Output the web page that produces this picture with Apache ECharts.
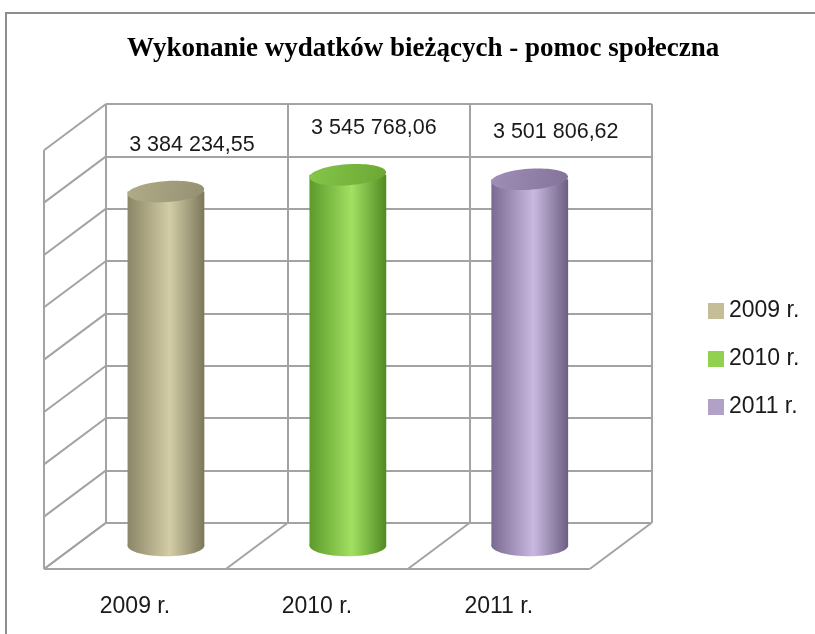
<!DOCTYPE html>
<html><head><meta charset="utf-8">
<script src="https://cdn.jsdelivr.net/npm/echarts@6/dist/echarts.min.js"></script>
<style>
html,body{margin:0;padding:0;background:#fff;width:815px;height:634px;overflow:hidden;}
#frame{position:absolute;left:5px;top:12px;width:900px;height:700px;border:2px solid #8e8e8e;box-sizing:border-box;}
#chart{position:absolute;left:0;top:0;width:815px;height:634px;}
</style></head><body>
<div id="frame"></div><div id="chart"></div>
<script>
// ---- data ----
const categories = ['2009 r.', '2010 r.', '2011 r.'];
const seriesNames = ['2009 r.', '2010 r.', '2011 r.'];
const values = [3384234.55, 3545768.06, 3501806.62];
const yMin = 0, yMax = 4000000, yStep = 500000;
const titleText = 'Wykonanie wydatków bieżących - pomoc społeczna';

// ---- styles ----
const legendColors = ['#C4BD97', '#92D050', '#B2A1C7'];
const bodyDark  = ['#8a8566', '#5b9a29', '#7a6a92'];
const bodyLight = ['#d3cda6', '#a2e063', '#c9b9e0'];
const bodyDark2 = ['#7b775b', '#508a22', '#6d5e84'];
const topA = ['#b0ab88', '#86c64a', '#9f8fb8'];
const topB = ['#959071', '#6aa733', '#837399'];
const DX = -62, DY = 46.3;           // depth offset of the 3D box
const WALL = {stroke: '#a3a3a3', lineWidth: 2};

function fmtPL(v) {
  const parts = v.toFixed(2).split('.');
  return parts[0].replace(/\B(?=(\d{3})+(?!\d))/g, ' ') + ',' + parts[1];
}

function wallsRenderer(params, api) {
  const children = [];
  const band = api.size([1, 0])[0];
  const n = categories.length;
  const x0 = api.coord([0, 0])[0] - band / 2;
  const yb = api.coord([0, yMin])[1];
  const yt = api.coord([0, yMax])[1];
  for (let t = yMin; t <= yMax; t += yStep) {
    const y = api.coord([0, t])[1];
    children.push({type: 'line', shape: {x1: x0, y1: y, x2: x0 + DX, y2: y + DY}, style: WALL});
  }
  children.push({type: 'line', shape: {x1: x0 + DX, y1: yt + DY, x2: x0 + DX, y2: yb + DY}, style: WALL});
  for (let b = 0; b <= n; b++) {
    const x = x0 + b * band;
    children.push({type: 'line', shape: {x1: x, y1: yb, x2: x + DX, y2: yb + DY}, style: WALL});
  }
  children.push({type: 'line', shape: {x1: x0 + DX, y1: yb + DY, x2: x0 + DX + n * band, y2: yb + DY}, style: WALL});
  return {type: 'group', children};
}

function cylinderRenderer(k) {
  return function (params, api) {
    const cat = api.value(0), val = api.value(1);
    const top = api.coord([cat, val]);
    const base = api.coord([cat, 0]);
    const band = api.size([1, 0])[0];
    const cx = top[0] + DX / 2, ty = top[1] + DY / 2, by = base[1] + DY / 2;
    const w = band * 0.422, rx = w / 2, ry = 10.5;
    const body = new echarts.graphic.LinearGradient(0, 0, 1, 0, [
      {offset: 0, color: bodyDark[k]}, {offset: 0.55, color: bodyLight[k]}, {offset: 1, color: bodyDark2[k]}]);
    const topG = new echarts.graphic.LinearGradient(0, 0, 1, 1, [
      {offset: 0, color: topA[k]}, {offset: 1, color: topB[k]}]);
    return {type: 'group', children: [
      {type: 'ellipse', shape: {cx: cx, cy: by, rx: rx, ry: ry}, style: {fill: body}},
      {type: 'rect', shape: {x: cx - rx, y: ty, width: w, height: by - ty}, style: {fill: body}},
      {type: 'ellipse', shape: {cx: cx, cy: ty, rx: rx, ry: ry}, originX: cx, originY: ty, rotation: 0.07, style: {fill: topG}},
      {type: 'text', x: cx + 26, y: ty - 47, style: {text: fmtPL(val), align: 'center', verticalAlign: 'middle',
        fontFamily: 'Liberation Sans', fontSize: 21.5, fill: '#1a1a1a'}}
    ]};
  };
}

const chart = echarts.init(document.getElementById('chart'), null, {renderer: 'canvas'});
const series = [{
  type: 'custom', name: '_walls', xAxisIndex: 0, yAxisIndex: 0, clip: false, z: 1,
  silent: true, data: [[0, 0]], renderItem: wallsRenderer
}];
seriesNames.forEach((nm, k) => {
  series.push({
    type: 'custom', name: nm, xAxisIndex: 0, yAxisIndex: 0, clip: false, z: 3,
    itemStyle: {color: legendColors[k]},
    data: [[k, values[k]]], renderItem: cylinderRenderer(k)
  });
});

chart.setOption({
  animation: false,
  backgroundColor: 'transparent',
  title: {text: titleText, left: 122, top: 31,
    textStyle: {fontFamily: 'Liberation Serif', fontWeight: 'bold', fontSize: 27, color: '#000'}},
  legend: {data: seriesNames, orient: 'vertical', left: 703, top: 294, itemWidth: 16, itemHeight: 16,
    itemGap: 24, icon: 'rect', textStyle: {fontFamily: 'Liberation Sans', fontSize: 23, color: '#1a1a1a', lineHeight: 24}},
  grid: [
    {left: 106, top: 104, width: 545.7, height: 418.7},
    {left: 44, top: 150.3, width: 545.7, height: 418.7}
  ],
  xAxis: [
    {type: 'category', gridIndex: 0, data: categories, axisLine: {show: false}, axisTick: {show: false},
      axisLabel: {show: false}, splitLine: {show: true, interval: 0, lineStyle: {color: '#a3a3a3', width: 2}}},
    {type: 'category', gridIndex: 1, data: categories, axisLine: {show: false}, axisTick: {show: false},
      splitLine: {show: false},
      axisLabel: {margin: 26, fontFamily: 'Liberation Sans', fontSize: 23, color: '#1a1a1a'}}
  ],
  yAxis: [
    {type: 'value', gridIndex: 0, min: yMin, max: yMax, interval: yStep, axisLine: {show: false},
      axisTick: {show: false}, axisLabel: {show: false}, splitLine: {show: true, lineStyle: {color: '#a3a3a3', width: 2}}},
    {type: 'value', gridIndex: 1, min: yMin, max: yMax, interval: yStep, show: false, splitLine: {show: false}}
  ],
  series: series
});
</script>
</body></html>
